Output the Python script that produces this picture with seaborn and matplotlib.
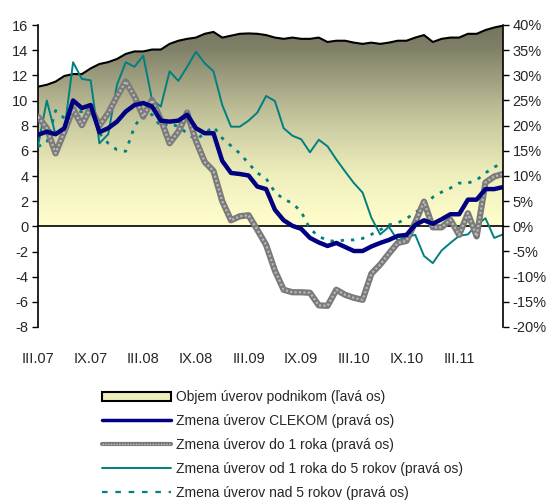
import numpy as np
import pandas as pd
import seaborn as sns
import matplotlib.pyplot as plt
from matplotlib.colors import LinearSegmentedColormap
from matplotlib.patches import Patch
from matplotlib.lines import Line2D

# mesacne udaje III.07 - VIII.11
tick_labels = ['III.07', 'IX.07', 'III.08', 'IX.08', 'III.09', 'IX.09', 'III.10', 'IX.10', 'III.11']

objem = [11.1, 11.25, 11.5, 11.95, 12.1, 12.1, 12.55, 12.9, 13.05, 13.3,
         13.7, 13.9, 13.9, 14.05, 14.05, 14.5, 14.75, 14.9, 15.0, 15.3,
         15.45, 15.0, 15.15, 15.3, 15.33, 15.3, 15.2, 15.0, 14.9, 15.0,
         14.9, 14.9, 15.0, 14.65, 14.75, 14.75, 14.6, 14.5, 14.6, 14.5,
         14.6, 14.75, 14.75, 15.0, 15.2, 14.65, 14.9, 15.0, 15.0, 15.3,
         15.3, 15.6, 15.8, 15.95]
clekom = [18.2, 18.8, 18.3, 19.5, 25.0, 23.5, 24.1, 18.7, 19.5, 20.8,
          22.8, 24.1, 24.5, 23.8, 21.0, 20.8, 21.0, 22.2, 19.5, 18.5,
          18.5, 13.0, 10.6, 10.4, 10.1, 7.9, 7.4, 3.3, 1.2, 0.1,
          -0.5, -2.3, -3.2, -3.9, -3.3, -4.1, -4.9, -4.9, -4.0, -3.3,
          -2.7, -1.9, -1.7, 0.3, 1.2, 0.5, 1.4, 2.4, 2.4, 5.3,
          5.3, 7.4, 7.4, 7.8]
do_1 = [21.8, 19.5, 14.5, 18.8, 23.3, 20.1, 23.6, 20.0, 22.5, 25.8,
        28.8, 25.8, 21.8, 25.1, 21.2, 16.5, 18.8, 22.6, 17.0, 12.8,
        11.0, 5.0, 1.2, 2.0, 2.2, -0.7, -3.7, -8.8, -12.6, -13.1,
        -13.1, -13.2, -15.7, -15.8, -12.6, -13.6, -14.2, -14.6, -9.4, -7.6,
        -5.4, -3.3, -2.9, 0.8, 4.9, -0.2, -0.2, 1.3, -1.7, 2.6,
        -2.0, 8.7, 9.9, 10.4]
od_1_do_5 = [15.9, 25.0, 18.2, 19.0, 32.6, 29.3, 29.0, 16.5, 18.3, 28.1,
             32.6, 31.7, 33.9, 25.1, 23.8, 30.8, 28.9, 31.7, 34.7, 32.4,
             30.8, 24.1, 19.8, 19.8, 21.0, 22.6, 25.9, 24.9, 19.5, 18.0,
             17.3, 14.7, 17.2, 15.9, 13.3, 10.9, 8.6, 6.7, 1.7, -1.6,
             -0.1, -2.8, -2.1, -1.7, -5.9, -7.3, -4.8, -3.3, -1.9, -1.6,
             0.3, 1.6, -2.3, -1.6]
nad_5 = [15.9, 16.5, 23.0, 21.5, 22.8, 22.8, 23.8, 18.5, 16.5, 15.2,
         14.9, 19.8, 22.5, 22.2, 19.8, 20.5, 19.8, 18.5, 17.2, 18.5,
         19.8, 17.5, 16.0, 14.5, 12.5, 10.6, 9.5, 6.8, 5.4, 4.6,
         2.9, -0.5, -2.0, -2.8, -3.0, -2.7, -2.7, -2.4, -1.6, -0.7,
         0.3, 0.7, 1.5, 2.8, 3.8, 5.8, 6.8, 7.6, 8.6, 8.6,
         9.2, 10.6, 11.8, 12.5]

labels = ['Objem úverov podnikom (ľavá os)',
          'Zmena úverov CLEKOM (pravá os)',
          'Zmena úverov do 1 roka (pravá os)',
          'Zmena úverov od 1 roka do 5 rokov (pravá os)',
          'Zmena úverov nad 5 rokov (pravá os)']

df = pd.DataFrame({'mesiac': np.arange(len(objem)), 'objem': objem, 'clekom': clekom,
                   'do_1': do_1, 'od_1_do_5': od_1_do_5, 'nad_5': nad_5})
x = df['mesiac'].to_numpy()

sns.set_style('white')
plt.rcParams['font.family'] = ['Liberation Sans', 'DejaVu Sans']
plt.rcParams['axes.unicode_minus'] = False

fig = plt.figure(figsize=(5.47, 5.0), dpi=100)
ax = fig.add_axes([38 / 547, 1 - 327 / 500, 465 / 547, 302 / 500])

# plocha s prechodom farieb
poly = ax.fill_between(x, 0, df['objem'], facecolor='none', edgecolor='none')
cmap = LinearSegmentedColormap.from_list('olive', [
    (0.0, '#fffecc'), (0.25, '#efefbd'), (0.5, '#cbcba2'), (0.625, '#b4b48f'),
    (0.75, '#9b9b7d'), (0.875, '#818169'), (1.0, '#74745e')])
grad = np.linspace(0, 1, 256).reshape(-1, 1)
img = ax.imshow(grad, extent=[x[0], x[-1], 0, 16], origin='lower', aspect='auto', cmap=cmap, zorder=1)
img.set_clip_path(poly.get_paths()[0], transform=ax.transData)
sns.lineplot(data=df, x='mesiac', y='objem', ax=ax, color='black', linewidth=1.5, zorder=2)

ax.set_xlim(x[0], x[-1])
ax.set_ylim(-8, 16)
ax.set_yticks(range(-8, 17, 2))
ax.set_xticks(range(0, len(x), 6))
ax.spines['bottom'].set_position(('data', 0))
ax.spines['top'].set_visible(False)
ax.spines['right'].set_visible(False)
for s in ['left', 'bottom']:
    ax.spines[s].set_color('black')
    ax.spines[s].set_linewidth(1.2)
ax.tick_params(axis='x', direction='out', length=4, width=1, color='black', labelbottom=False)
ax.tick_params(axis='y', direction='out', length=4, width=1, color='black', labelsize=10.5, pad=3)
ax.set_xlabel('')
ax.set_ylabel('')

sec = ax.secondary_xaxis('bottom')
sec.set_xticks(range(0, len(x), 6), tick_labels)
sec.tick_params(length=0, pad=18, labelsize=10.5)
sec.spines['bottom'].set_visible(False)

# prava os
ax2 = ax.twinx()
sns.lineplot(data=df, x='mesiac', y='od_1_do_5', ax=ax2, color='#008080', linewidth=1.4)
sns.lineplot(data=df, x='mesiac', y='nad_5', ax=ax2, color='#008080', linewidth=2, linestyle=(0, (1.2, 2.5)))
sns.lineplot(data=df, x='mesiac', y='do_1', ax=ax2, color='#7a7a7a', linewidth=4.5)
sns.lineplot(data=df, x='mesiac', y='do_1', ax=ax2, color='#b8b8b8', linewidth=1.6, linestyle=(0, (1, 1)))
sns.lineplot(data=df, x='mesiac', y='clekom', ax=ax2, color='#000080', linewidth=3.2)
ax2.set_xlim(x[0], x[-1])
ax2.set_ylim(-20, 40)
ax2.set_yticks(range(-20, 41, 5))
ax2.set_yticklabels([f'{v}%' for v in range(-20, 41, 5)])
for s in ['top', 'bottom', 'left']:
    ax2.spines[s].set_visible(False)
ax2.spines['right'].set_color('black')
ax2.spines['right'].set_linewidth(1.2)
ax2.tick_params(axis='y', direction='out', length=4, width=1, color='black', labelsize=10.5, pad=3)
ax2.set_xlabel('')
ax2.set_ylabel('')

handles = [
    Patch(facecolor='#eeeebb', edgecolor='black', linewidth=1.5),
    Line2D([], [], color='#000080', linewidth=2.5),
    (Line2D([], [], color='#7a7a7a', linewidth=3),
     Line2D([], [], color='#c0c0c0', linewidth=1, linestyle=(0, (1, 1)))),
    Line2D([], [], color='#008080', linewidth=1.4),
    Line2D([], [], color='#008080', linewidth=1.6, linestyle=(0, (2.5, 3.5))),
]
fig.legend(handles, labels, loc='upper left', bbox_to_anchor=(102 / 547, 1 - 390 / 500),
           frameon=False, handlelength=5, handleheight=0.6, fontsize=10, labelspacing=0.72,
           handletextpad=0.3, borderaxespad=0, borderpad=0)

fig.savefig('out.png', dpi=100)
